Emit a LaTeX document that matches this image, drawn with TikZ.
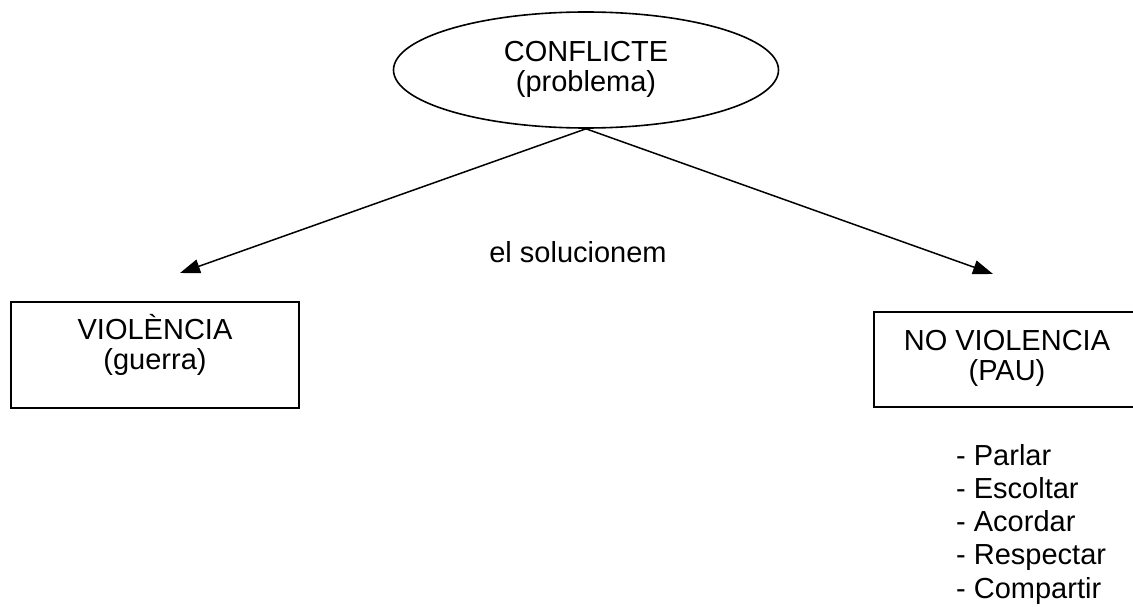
\documentclass[tikz,border=0pt]{standalone}
\usepackage{fontspec}
\setmainfont{Liberation Sans}
\usetikzlibrary{shapes.geometric,arrows.meta}
\begin{document}
\begin{tikzpicture}[x=1pt,y=-1pt,
  every node/.style={font=\fontsize{29}{30}\selectfont, inner sep=0pt},
  lbl/.style={align=center},
  boxnode/.style={draw, line width=1.6pt, rectangle},
  oval/.style={draw, line width=1.6pt, ellipse, align=center},
  arr/.style={line width=1.5pt, -{Triangle[length=20pt,width=14pt]}}]
\clip (0,0) rectangle (1133,607);
\fill[white] (0,0) rectangle (1133,607);
\node[oval, minimum width=385pt, minimum height=116pt] (c) at (586,70) {};
\node[lbl] (ct) at (586,69.5) {CONFLICTE\\(problema)};
\node[boxnode, minimum width=288pt, minimum height=106pt] (v) at (155,355) {};
\node[lbl] (vt) at (155,345) {VIOLÈNCIA\\(guerra)};
\node[boxnode, minimum width=270pt, minimum height=95pt] (nv) at (1009,359.5) {};
\node[lbl] (nvt) at (1007,358.5) {NO VIOLENCIA\\(PAU)};
\coordinate (tl) at (180,273);
\coordinate (tr) at (993,274);
\draw[arr] (c.south) -- (tl);
\draw[arr] (c.south) -- (tr);
\node[anchor=base] (s) at (578,262) {el solucionem};
\node[anchor=north west, align=left, font=\fontsize{29}{33.2}\selectfont] (list) at (956,444) {- Parlar\\- Escoltar\\- Acordar\\- Respectar\\- Compartir};
\end{tikzpicture}
\end{document}
